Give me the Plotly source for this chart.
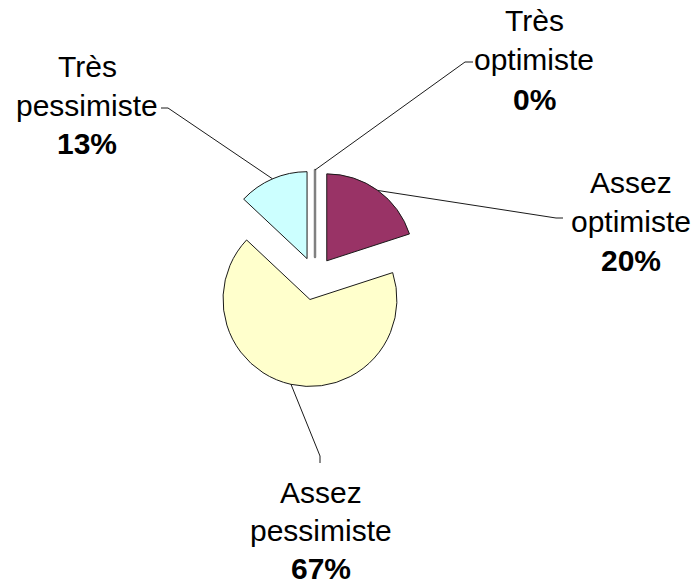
import math
import plotly.graph_objects as go

# ---- data ----
labels = ["Très optimiste", "Assez optimiste", "Assez pessimiste", "Très pessimiste"]
label_line1 = ["Très", "Assez", "Assez", "Très"]
label_line2 = ["optimiste", "optimiste", "pessimiste", "pessimiste"]
values = [0, 20, 67, 13]
pct_text = ["0%", "20%", "67%", "13%"]
colors = ["#C0C0C0", "#993366", "#FFFFCC", "#CCFFFF"]
line_colors = ["#808080", "#1a1a1a", "#1a1a1a", "#1a1a1a"]
line_widths = [2.5, 1, 1, 1]
pulls = [0.23, 0.23, 0.265, 0.23]

W, H = 698, 584

def to_paper(x, y):
    return x / W, 1 - y / H

# pie domain (pixels)
cx_px, cy_px = 315, 277
half = 110
x0, y0 = to_paper(cx_px - half, cy_px + half)
x1, y1 = to_paper(cx_px + half, cy_px - half)
r_px = half / (1 + max(pulls))

fig = go.Figure(go.Pie(
    labels=labels, values=values, sort=False, direction="clockwise", rotation=0,
    pull=pulls, textinfo="none", hoverinfo="label+percent",
    marker=dict(colors=colors, line=dict(color=line_colors, width=line_widths)),
    domain=dict(x=[x0, x1], y=[y0, y1]), showlegend=False,
))

# label layout (pixels): center x and the three line baselines; leader end point and dash end
label_x = [534, 631, 321, 87]
label_baselines = [(31, 70, 109), (192, 231, 270), (502, 540, 578), (77, 115, 153)]
leader_end = [(465, 62), (556, 218), (320, 456), (168, 108)]
leader_dash = [(473, 62), (563, 218), (320, 463), (161, 108)]

FONT = "Liberation Sans, Arial, sans-serif"
total = sum(values)
cum = 0
shapes = []
annotations = []
for i, v in enumerate(values):
    mid = (cum + v / 2) / total * 2 * math.pi
    cum += v
    dist = r_px * (1 + pulls[i])
    sx = cx_px + dist * math.sin(mid)
    sy = cy_px - dist * math.cos(mid)
    p0 = to_paper(sx, sy)
    p1 = to_paper(*leader_end[i])
    p2 = to_paper(*leader_dash[i])
    shapes.append(dict(type="path", xref="paper", yref="paper",
                       path=f"M {p0[0]},{p0[1]} L {p1[0]},{p1[1]} L {p2[0]},{p2[1]}",
                       line=dict(color="#1a1a1a", width=1)))
    texts = [label_line1[i], label_line2[i], "<b>" + pct_text[i] + "</b>"]
    for t, b in zip(texts, label_baselines[i]):
        ax, ay = to_paper(label_x[i], b - 10)
        annotations.append(dict(x=ax, y=ay, xref="paper", yref="paper", text=t,
                                showarrow=False, xanchor="center", yanchor="middle",
                                borderpad=0,
                                font=dict(family=FONT, size=30, color="black")))

fig.update_layout(
    width=W, height=H, margin=dict(l=0, r=0, t=0, b=0),
    paper_bgcolor="white", plot_bgcolor="white",
    shapes=shapes, annotations=annotations,
)

fig.write_html("out.html", config={"displayModeBar": False},
               post_script="document.body.style.margin='0px';")
